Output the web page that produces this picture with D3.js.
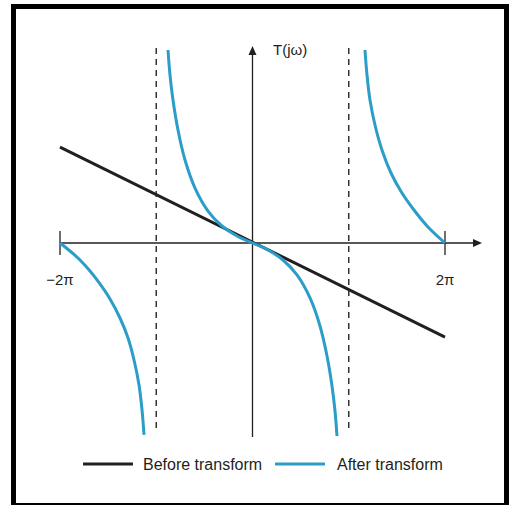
<!DOCTYPE html>
<html>
<head>
<meta charset="utf-8">
<script src="https://cdn.jsdelivr.net/npm/d3@7"></script>
<style>
  body { margin: 0; background: #fff; }
  svg text { font-family: "Liberation Sans", Arial, sans-serif; fill: #231f20; }
</style>
</head>
<body>
<div id="chart"></div>
<script>
'use strict';

var TWO_PI = 2 * Math.PI;

// axis ticks
var xTicks = [-TWO_PI, TWO_PI];
var xTickLabels = ['\u22122\u03c0', '2\u03c0'];
var asymptotes = [-Math.PI, Math.PI];
var yLabel = 'T(j\u03c9)';

// "Before transform": straight line through the origin
var beforeW = [-TWO_PI, TWO_PI];
var beforeT = [3.13, -3.07];

// "After transform": three branches
var leftW  = [-TWO_PI, -5.957, -5.631, -5.304, -4.978, -4.651, -4.325, -4.063, -3.867, -3.704, -3.606, -3.541];
var leftT  = [0, -0.261, -0.555, -0.914, -1.338, -1.828, -2.448, -3.100, -3.818, -4.634, -5.450, -6.266];
var midW   = [-2.758, -2.693, -2.595, -2.432, -2.203, -1.877, -1.452, -0.995, -0.506, 0,
              0.506, 0.995, 1.452, 1.877, 2.203, 2.432, 2.595, 2.693, 2.758];
var midT   = [6.299, 5.483, 4.667, 3.688, 2.709, 1.795, 1.044, 0.555, 0.228, 0,
              -0.228, -0.555, -1.044, -1.795, -2.709, -3.688, -4.667, -5.483, -6.299];
var rightW = [3.672, 3.737, 3.835, 3.998, 4.226, 4.520, 4.879, 5.271, 5.728, TWO_PI];
var rightT = [6.299, 5.483, 4.667, 3.851, 3.035, 2.285, 1.632, 1.077, 0.522, 0];

var legendNames = ['Before transform', 'After transform'];
var colors = ['#231f20', '#2a9dc8'];

var w = 513;
var h = 505;

var svg = d3.select('#chart').append('svg')
            .attr('width', w)
            .attr('height', h);

// frame
svg.append('rect')
   .attr('x', 13.5).attr('y', 6.5)
   .attr('width', 493).attr('height', 499)
   .attr('fill', 'none')
   .attr('stroke', '#000')
   .attr('stroke-width', 5);

var x = d3.scaleLinear().domain([-TWO_PI, TWO_PI]).range([60, 445]);
var y = d3.scaleLinear().domain([-TWO_PI, TWO_PI]).range([435.5, 50.5]);

var x0 = x(0);
var y0 = y(0);

var zip = function(ws, ts) {
  return ws.map(function(d, i) { return [d, ts[i]]; });
};

// dashed asymptotes
svg.selectAll('line.asym').data(asymptotes).enter()
   .append('line')
   .attr('class', 'asym')
   .attr('x1', function(d) { return x(d); })
   .attr('x2', function(d) { return x(d); })
   .attr('y1', 48)
   .attr('y2', 431)
   .attr('stroke', '#333')
   .attr('stroke-width', 1.5)
   .attr('stroke-dasharray', '6,5');

// axes
var axisColor = '#231f20';
svg.append('line')
   .attr('x1', x(-TWO_PI)).attr('x2', 474)
   .attr('y1', y0).attr('y2', y0)
   .attr('stroke', axisColor).attr('stroke-width', 1.3);
svg.append('path')
   .attr('d', 'M' + 482 + ',' + y0 + 'L' + 473 + ',' + (y0 - 4) + 'L' + 473 + ',' + (y0 + 4) + 'Z')
   .attr('fill', axisColor);

svg.append('line')
   .attr('x1', x0).attr('x2', x0)
   .attr('y1', 437).attr('y2', 54)
   .attr('stroke', axisColor).attr('stroke-width', 1.3);
svg.append('path')
   .attr('d', 'M' + x0 + ',' + 46 + 'L' + (x0 - 4) + ',' + 55 + 'L' + (x0 + 4) + ',' + 55 + 'Z')
   .attr('fill', axisColor);

svg.append('text')
   .attr('x', 273).attr('y', 55)
   .attr('font-size', 15)
   .text(yLabel);

// ticks at +-2pi
svg.selectAll('line.tick').data(xTicks).enter()
   .append('line')
   .attr('class', 'tick')
   .attr('x1', function(d) { return x(d); })
   .attr('x2', function(d) { return x(d); })
   .attr('y1', y0 - 12)
   .attr('y2', y0 + 12)
   .attr('stroke', axisColor)
   .attr('stroke-width', 1.3);

svg.selectAll('text.ticklabel').data(xTicks).enter()
   .append('text')
   .attr('class', 'ticklabel')
   .attr('x', function(d) { return x(d); })
   .attr('y', 285)
   .attr('text-anchor', 'middle')
   .attr('font-size', 15)
   .text(function(d, i) { return xTickLabels[i]; });

var line = d3.line()
             .x(function(d) { return x(d[0]); })
             .y(function(d) { return y(d[1]); })
             .curve(d3.curveCatmullRom.alpha(0.5));

// before transform
svg.append('path')
   .datum(zip(beforeW, beforeT))
   .attr('d', line)
   .attr('fill', 'none')
   .attr('stroke', colors[0])
   .attr('stroke-width', 3);

// after transform
var branches = [zip(leftW, leftT), zip(midW, midT), zip(rightW, rightT)];
svg.selectAll('path.after').data(branches).enter()
   .append('path')
   .attr('class', 'after')
   .attr('d', line)
   .attr('fill', 'none')
   .attr('stroke', colors[1])
   .attr('stroke-width', 3);

// legend
var legendX = [83, 275];
var legend = svg.selectAll('g.legend').data(legendNames).enter()
                .append('g')
                .attr('class', 'legend')
                .attr('transform', function(d, i) { return 'translate(' + legendX[i] + ',464)'; });
legend.append('line')
      .attr('x1', 0).attr('x2', 50)
      .attr('y1', 0).attr('y2', 0)
      .attr('stroke', function(d, i) { return colors[i]; })
      .attr('stroke-width', 3);
legend.append('text')
      .attr('x', function(d, i) { return i === 0 ? 60 : 62; })
      .attr('y', 5.5)
      .attr('font-size', 16)
      .text(function(d) { return d; });
</script>
</body>
</html>
